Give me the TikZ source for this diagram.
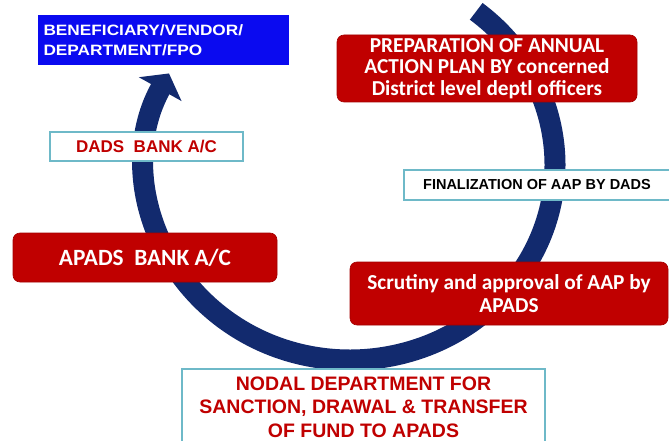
\documentclass[tikz,border=0pt]{standalone}
\usepackage{fontspec}
\setmainfont{Liberation Sans}
\newfontfamily\widefont[FakeStretch=1.15]{Liberation Sans}
\newfontfamily\calibrifont{Carlito}
\usetikzlibrary{arrows.meta}
\tikzset{
every picture/.style={
line width=1pt
}}
\definecolor{aapred}{RGB}{192,0,0}
\definecolor{aapblue}{RGB}{10,10,240}
\definecolor{aapnavy}{RGB}{18,42,110}
\definecolor{aapteal}{RGB}{110,185,200}

\begin{document}
\begin{tikzpicture}[x=1pt, y=-1pt,
redbox/.style = {rectangle, rounded corners=7pt, fill=aapred, draw=aapred!85!black, line width=0.6pt, text=white, align=center, inner sep=0pt},
whitebox/.style = {rectangle, draw=aapteal, line width=1.5pt, fill=white, align=center, inner sep=0pt},
cyclearrow/.style = {line width=21pt, draw=aapnavy, -{Triangle[width=48pt, length=18pt]}}]

  \useasboundingbox (0,0) rectangle (669,441);
  \clip (0,0) rectangle (669,441);

  \coordinate (centre) at (350,165);
  \draw[cyclearrow] (centre) ++(-52:205 and 195) arc[start angle=-52, end angle=208, x radius=205, y radius=195];

  \node[rectangle, fill=aapblue, text=white, font=\widefont\bfseries\fontsize{15}{20}\selectfont, align=left, anchor=north west, text width=239pt, inner xsep=6pt, inner ysep=0pt, minimum height=50pt] (beneficiary) at (37,15) {BENEFICIARY/VENDOR/\\DEPARTMENT/FPO};
  \node[whitebox, minimum width=193pt, minimum height=29pt, text=aapred, font=\bfseries\fontsize{17}{20}\selectfont] (dadsbank) at (146.5,146.5) {DADS\ \ BANK A/C};
  \node[redbox, minimum width=300pt, minimum height=67pt, font=\calibrifont\bfseries\fontsize{21.3}{21.5}\selectfont] (preparation) at (487,68.5) {PREPARATION OF ANNUAL\\ACTION PLAN BY concerned\\District level deptl officers};
  \node[whitebox, minimum width=266pt, minimum height=30pt, text=black, font=\bfseries\fontsize{14.5}{17}\selectfont] (finalization) at (537,185) {FINALIZATION OF AAP BY DADS};
  \node[redbox, minimum width=264pt, minimum height=49pt, font=\calibrifont\bfseries\fontsize{23.3}{26}\selectfont] (apadsbank) at (145,257.5) {APADS\ \ BANK A/C};
  \node[redbox, minimum width=318pt, minimum height=63pt, font=\calibrifont\bfseries\fontsize{21.3}{23}\selectfont] (scrutiny) at (509,293.5) {Scrutiny and approval of AAP by\\APADS};
  \node[whitebox, anchor=north, minimum width=363pt, inner ysep=8pt, text=aapred, font=\bfseries\fontsize{19.5}{23.5}\selectfont] (nodal) at (363.5,368) {NODAL DEPARTMENT FOR\\SANCTION, DRAWAL \& TRANSFER\\OF FUND TO APADS};

\end{tikzpicture}
\end{document}
